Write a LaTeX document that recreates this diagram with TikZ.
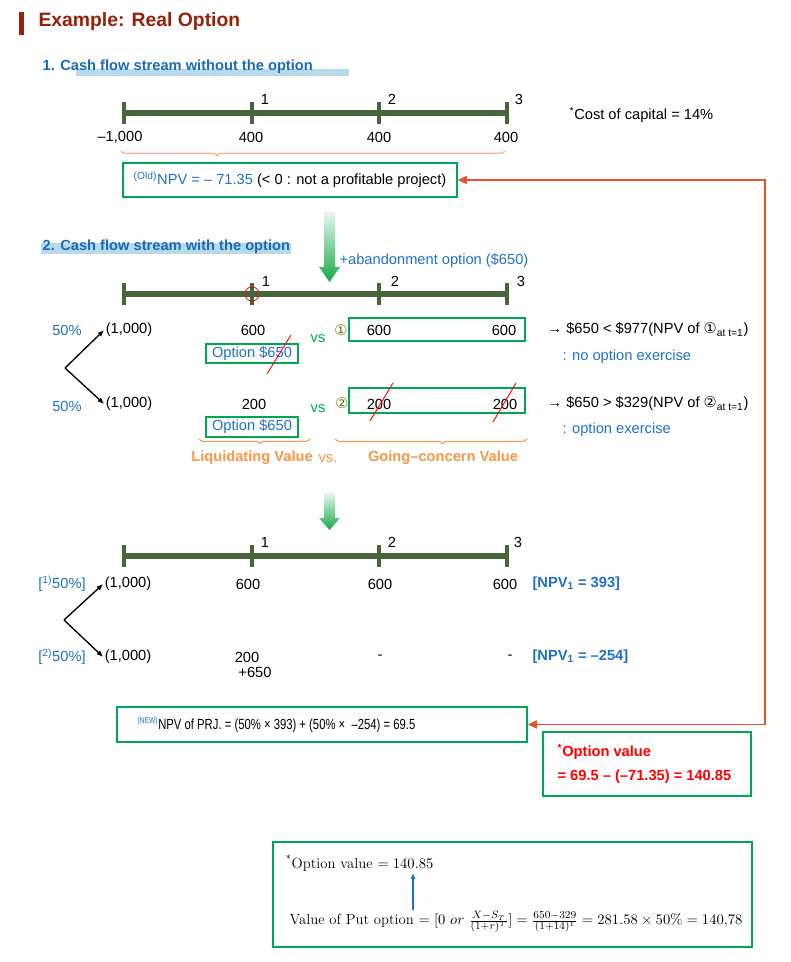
\documentclass[tikz,border=0pt]{standalone}
\usepackage[no-math]{fontspec}
\setsansfont{Liberation Sans}
\renewcommand{\familydefault}{\sfdefault}
\newfontfamily\symfont{DejaVu Sans}
\newfontfamily\narrowfont{Liberation Sans}[FakeStretch=0.77]
\usepackage{xcolor}
\usepackage{tikz}
\usetikzlibrary{arrows.meta, positioning, decorations.pathreplacing, calc}

\definecolor{titlered}{RGB}{150,32,8}
\definecolor{headblue}{RGB}{28,105,185}
\definecolor{txtblue}{RGB}{31,112,200}
\definecolor{hlblue}{RGB}{183,218,235}
\definecolor{lineg}{RGB}{70,102,58}
\definecolor{boxg}{RGB}{0,166,81}
\definecolor{braceor}{RGB}{247,150,70}
\definecolor{lightor}{RGB}{248,180,140}
\definecolor{linkred}{RGB}{232,82,42}
\definecolor{circg}{RGB}{110,115,20}
\definecolor{arrowg}{RGB}{20,170,70}

\newdimen\pxu \pxu=0.75pt

\begin{document}
\begin{tikzpicture}[x=0.75pt, y=-0.75pt, font=\fontsize{11}{13}\selectfont,
    txt/.style={inner sep=1pt},
    gbox/.style={draw=boxg, line width=0.9pt, inner sep=0pt},
    tree/.style={-{Latex[length=5pt, width=4pt]}, line width=1pt},
    strike/.style={red, line width=0.7pt},
    orbrace/.style={braceor, line width=0.8pt, decorate, decoration={brace, mirror, amplitude=3.5pt}},
    head/.style={txt, anchor=west, text=headblue, font=\fontsize{11}{13}\selectfont\bfseries}]
        \useasboundingbox (0,0) rectangle (790,962);

        % title
        \fill[titlered] (19,12) rectangle (24,35);
        \node[txt, anchor=west, text=titlered, font=\fontsize{14.5}{17}\selectfont\bfseries] (title) at (37,22) {Example: Real Option};

        % timelines
        \foreach \ty in {113,294,556} {
            \draw[lineg, line width=6\pxu] (124,\ty) -- (507,\ty);
            \foreach \tx in {124,252,379,507}
                \draw[lineg, line width=4.5\pxu] (\tx,\ty-11) -- (\tx,\ty+11);
        }

        % 1. without the option
        \fill[hlblue] (76,69) rectangle (349,76);
        \node[head] (h1) at (41,67) {1. Cash flow stream without the option};
        \node[txt] (t1a) at (265,99) {1};
        \node[txt] (t2a) at (392,99) {2};
        \node[txt] (t3a) at (519,99) {3};
        \node[txt, anchor=west] (coc) at (568,115) {\textsuperscript{*}Cost of capital = 14\%};
        \node[txt] (v0) at (120,137) {–1,000};
        \node[txt] (v1) at (251,137) {400};
        \node[txt] (v2) at (379,137) {400};
        \node[txt] (v3) at (506,137) {400};
        \draw[lightor, line width=0.9pt, decorate, decoration={brace, mirror, amplitude=3.5pt, aspect=0.25}] (121,151) -- (505,151);
        \node[gbox, minimum width=334\pxu, minimum height=34\pxu] (oldbox) at (290,180)
            {\textcolor{txtblue}{\textsuperscript{(Old)}NPV = – 71.35} (< 0 : not a profitable project)};

        % green arrow
        \shade[top color=arrowg!10!white, bottom color=arrowg] (324,212) -- (335,212) -- (335,267) -- (340,267) -- (329.5,282) -- (319,267) -- (324,267) -- cycle;
        \node[txt, anchor=west, text=txtblue] (aband) at (338,261) {+abandonment option (\$650)};

        % 2. with the option
        \fill[hlblue] (41,243) rectangle (291,254);
        \node[head] (h2) at (41,247) {2. Cash flow stream with the option};
        \node[txt] (t1b) at (266,281) {1};
        \node[txt] (t2b) at (395,281) {2};
        \node[txt] (t3b) at (521,281) {3};
        \draw[red, line width=0.6pt] (252,294) circle (5.3pt);

        % upper branch
        \node[txt, text=txtblue] (pa) at (67,330) {50\%};
        \node[txt] (ca) at (129,330) {(1,000)};
        \node[txt] (la) at (253,330) {600};
        \node[gbox, minimum width=92\pxu, minimum height=19\pxu, text=txtblue] (opta) at (252,353.5) {Option \$650};
        \draw[strike] (291,335) -- (267,374);
        \node[txt, text=boxg] (vsa) at (318,339) {vs};
        \node[txt, text=circg] (na) at (341,330) {\symfont ①};
        \node[gbox, minimum width=176\pxu, minimum height=23\pxu] (gca) at (437,329.5) {};
        \node[txt] (ga1) at (379,330) {600};
        \node[txt] (ga2) at (504,330) {600};
        \node[txt, anchor=west] (ra) at (546,330) {→ \$650 < \$977(NPV of {\symfont ①}\textsubscript{at t=1})};
        \node[txt, anchor=west, text=txtblue] (ea) at (561,357) {: no option exercise};

        % lower branch
        \node[txt, text=txtblue] (pb) at (67,406) {50\%};
        \node[txt] (cb) at (129,404) {(1,000)};
        \node[txt] (lb) at (254,404) {200};
        \node[gbox, minimum width=92\pxu, minimum height=20\pxu, text=txtblue] (optb) at (252,427) {Option \$650};
        \node[txt, text=boxg] (vsb) at (318,409) {vs};
        \node[txt, text=circg] (nb) at (342,403) {\symfont ②};
        \node[gbox, minimum width=176\pxu, minimum height=25\pxu] (gcb) at (437,400.5) {};
        \node[txt] (gb1) at (379,404) {200};
        \node[txt] (gb2) at (505,404) {200};
        \draw[strike] (393,383) -- (370,421);
        \draw[strike] (516,383) -- (493,422);
        \node[txt, anchor=west] (rb) at (546,404) {→ \$650 > \$329(NPV of {\symfont ②}\textsubscript{at t=1})};
        \node[txt, anchor=west, text=txtblue] (eb) at (561,430) {: option exercise};

        \coordinate (fork1) at (65,368);
        \draw[tree] (fork1) -- (ca.west);
        \draw[tree] (fork1) -- (cb.west);

        % liquidating vs going-concern
        \draw[orbrace, decoration={aspect=0.55}] (199,439) -- (310,439);
        \draw[orbrace, decoration={aspect=0.56}] (335,439) -- (527,439);
        \node[txt, text=braceor, font=\fontsize{11}{13}\selectfont\bfseries] (liq) at (252,458) {Liquidating Value};
        \node[txt, text=braceor] (vsc) at (328,459) {vs.};
        \node[txt, text=braceor, font=\fontsize{11}{13}\selectfont\bfseries] (goc) at (443,458) {Going–concern Value};

        % second green arrow
        \shade[top color=arrowg!10!white, bottom color=arrowg] (324,493) -- (335,493) -- (335,518) -- (340,518) -- (329.5,530) -- (319,518) -- (324,518) -- cycle;

        % result
        \node[txt] (t1c) at (265,542) {1};
        \node[txt] (t2c) at (392,542) {2};
        \node[txt] (t3c) at (518,542) {3};
        \node[txt, text=txtblue] (pc) at (62,584) {[\textsuperscript{1)}50\%]};
        \node[txt] (cc) at (128,584) {(1,000)};
        \node[txt] (c1) at (248,584) {600};
        \node[txt] (c2) at (380,584) {600};
        \node[txt] (c3) at (505,584) {600};
        \node[txt, anchor=west, text=txtblue, font=\fontsize{11}{13}\selectfont\bfseries] (npvc) at (531,584) {[NPV\textsubscript{1} = 393]};
        \node[txt, text=txtblue] (pd) at (62,657) {[\textsuperscript{2)}50\%]};
        \node[txt] (cd) at (128,657) {(1,000)};
        \node[txt] (d1) at (247,657) {200};
        \node[txt] (d1b) at (255,672) {+650};
        \node[txt] (d2) at (380,657) {-};
        \node[txt] (d3) at (510,657) {-};
        \node[txt, anchor=west, text=txtblue, font=\fontsize{11}{13}\selectfont\bfseries] (npvd) at (531,657) {[NPV\textsubscript{1} = –254]};
        \coordinate (fork2) at (64,620);
        \draw[tree] (fork2) -- (cc.west);
        \draw[tree] (fork2) -- (cd.west);

        % new NPV and option value
        \node[gbox, minimum width=410\pxu, minimum height=35\pxu] (newbox) at (322,724.5) {};
        \node[txt, anchor=west] (newtxt) at (136,725)
            {\narrowfont\textcolor{txtblue}{\textsuperscript{\fontsize{6.5}{7}\selectfont(NEW)}}NPV of PRJ. = (50\% × 393) + (50\% × \ –254) = 69.5};
        \node[gbox, minimum width=208\pxu, minimum height=64\pxu] (valbox) at (647,764) {};
        \node[txt, anchor=west, text=red, font=\fontsize{11}{13}\selectfont\bfseries] (val1) at (556,752) {\textsuperscript{*}Option value};
        \node[txt, anchor=west, text=red, font=\fontsize{11}{13}\selectfont\bfseries] (val2) at (556,777) {= 69.5 – (–71.35) = 140.85};
        \coordinate (rt) at (765,0);
        \draw[linkred, line width=1.4pt, {Triangle[length=7pt, width=6pt]}-{Triangle[length=7pt, width=6pt]}]
            (newbox.east) -- (newbox.east -| rt) -- (oldbox.east -| rt) -- (oldbox.east);

        % put option
        \node[gbox, minimum width=479\pxu, minimum height=105\pxu] (putbox) at (512.5,894.5) {};
        \node[txt, anchor=west, font=\rmfamily\fontsize{11}{13}\selectfont] (optv) at (284,863) {\textsuperscript{*}Option value $= 140.85$};
        \node[txt, anchor=west, font=\rmfamily\fontsize{11}{13}\selectfont] (putv) at (288,922)
            {Value of Put option $= \bigl[0\ or\ \frac{X-S_T}{(1+r)^T}\bigr] = \frac{650-329}{(1+14)^1} = 281.58 \times 50\% = 140{,}78$};
        \coordinate (au) at (413,0);
        \draw[txtblue, line width=1pt, -{Latex[length=5pt, width=4pt]}] (putv.north -| au) -- (optv.south -| au);
    \end{tikzpicture}
\end{document}
